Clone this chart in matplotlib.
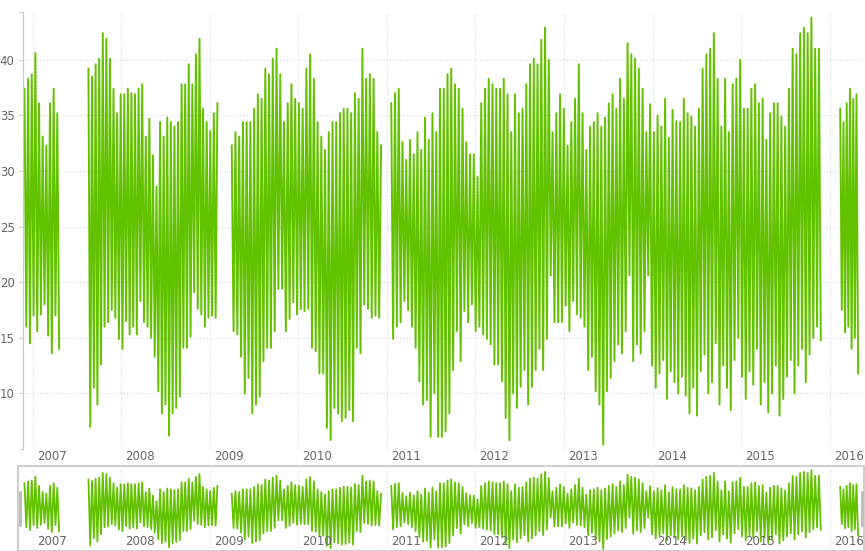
import numpy as np
import pandas as pd
import matplotlib
matplotlib.use("Agg")
import matplotlib.pyplot as plt
from matplotlib.patches import Rectangle, FancyBboxPatch
from matplotlib.transforms import blended_transform_factory, ScaledTranslation

# ---------------------------------------------------------------------------
# Data (weekly-ish readings, gaps between segments)
# ---------------------------------------------------------------------------
seg_starts = ["2006-11-28", "2007-08-19", "2009-04-01", "2011-01-19", "2016-02-14"]
seg_ends = ["2007-04-20", "2009-02-01", "2010-12-08", "2015-11-26", "2016-04-28"]

seg1 = [37.4, 16.0, 38.3, 14.5, 38.7, 17.0, 40.6, 15.6, 36.1, 17.1,
        33.1, 18.0, 32.3, 15.2, 36.1, 13.6, 37.4, 17.0, 35.2, 14.0]

seg2 = [39.2, 7.0, 38.5, 10.5, 39.6, 9.0, 40.1, 12.6, 42.4, 16.0,
        41.9, 16.4, 40.1, 17.5, 37.4, 16.8, 35.2, 14.9, 36.9, 14.0,
        36.9, 16.5, 37.4, 15.3, 37.0, 16.0, 36.9, 15.3, 37.4, 18.3,
        37.8, 16.4, 33.1, 16.0, 34.7, 15.0, 31.4, 13.3, 28.6, 10.2,
        34.4, 8.2, 33.1, 9.0, 34.8, 6.2, 34.4, 8.2, 34.0, 8.7,
        34.4, 9.7, 37.8, 14.1, 37.8, 14.1, 39.6, 15.1, 37.8, 19.1,
        40.5, 17.6, 41.9, 17.1, 35.6, 16.0, 34.4, 16.8, 33.6, 17.0,
        35.2, 16.8, 36.1]

seg3 = [32.3, 15.6, 33.5, 15.3, 33.1, 13.3, 34.4, 10.0, 34.4, 11.4,
        34.4, 8.2, 35.6, 9.0, 36.9, 9.7, 36.5, 12.9, 39.2, 14.1,
        38.7, 14.1, 40.1, 15.6, 41.0, 19.4, 38.7, 19.4, 34.4, 15.6,
        36.1, 16.7, 37.8, 18.2, 36.5, 17.1, 36.1, 17.6, 35.6, 17.4,
        39.2, 17.6, 40.5, 14.1, 38.3, 13.8, 34.4, 11.8, 33.1, 11.8,
        31.9, 6.9, 33.5, 5.8, 34.4, 8.7, 34.4, 8.2, 35.2, 7.5,
        35.6, 7.8, 35.6, 8.5, 35.2, 7.5, 37.0, 14.1, 36.5, 13.6,
        41.0, 18.0, 38.3, 17.6, 38.7, 16.8, 38.3, 17.0, 33.5, 16.8,
        32.3]

seg4 = [36.1, 14.9, 37.0, 16.0, 37.4, 16.4, 32.6, 18.3, 31.0, 17.5,
        32.8, 16.0, 31.5, 14.1, 33.5, 11.1, 31.9, 9.0, 34.8, 9.4,
        32.8, 6.1, 35.2, 10.0, 33.5, 6.1,
        37.4, 6.1, 37.4, 6.6, 38.7, 8.2, 39.2, 12.1, 37.8, 15.6,
        37.4, 12.9, 35.6, 17.4, 32.6, 16.4, 31.5, 18.0, 31.5, 15.6,
        29.5, 16.0, 36.1, 15.3, 37.4, 14.9, 38.3, 14.4, 37.8, 12.6,
        37.4, 12.6, 37.4, 11.1, 38.3, 7.8, 36.9, 5.8, 33.5, 10.0,
        36.9, 8.7, 35.2, 10.6, 35.6, 12.1, 37.8, 9.0, 39.6, 10.6,
        40.1, 12.1, 39.6, 14.0,
        41.8, 12.1, 42.9, 14.9, 40.0, 20.6, 33.5, 16.4, 35.2, 16.4,
        36.9, 16.4, 35.6, 17.9, 32.3, 15.6, 34.4, 18.3, 36.5, 17.1,
        39.6, 16.8, 35.2, 16.0, 31.9, 12.1, 34.0, 13.3, 34.4, 10.2,
        35.2, 9.0, 34.0, 5.4, 34.8, 10.2, 36.1, 11.4, 36.9, 12.9,
        35.6, 14.4, 38.3, 13.6, 36.5, 15.6, 41.5, 20.6, 40.5, 12.9,
        40.1, 14.4, 39.2, 13.6, 37.4, 15.6, 33.5, 20.6,
        36.0, 12.5, 33.5, 10.5, 35.0, 11.8, 34.0, 13.0, 36.5, 9.5,
        33.0, 12.0, 35.5, 11.0, 34.5, 10.0,
        34.4, 11.5, 36.5, 9.8, 35.2, 8.2, 34.9, 10.5, 34.0, 8.0,
        35.6, 12.0, 39.2, 13.5, 40.5, 10.0, 41.0, 11.0, 42.4, 14.5,
        38.3, 9.0, 34.0, 12.5, 38.3, 10.5, 33.5, 8.5, 37.8, 13.0,
        38.3, 15.0, 40.0, 11.5, 35.6, 9.5, 35.6, 12.0, 37.4, 10.8,
        37.8, 14.0, 36.1, 9.0, 36.5, 11.0, 32.8, 8.3, 35.2, 10.0,
        36.1, 12.5, 36.1, 8.0, 34.9, 9.5, 34.0, 11.5, 37.4, 13.0,
        41.0, 10.0, 40.5, 12.5, 42.4, 14.0, 42.9, 11.0, 42.4, 13.5,
        43.8, 15.0, 41.0, 16.0, 41.0, 14.8]

seg5 = [35.6, 17.5, 34.4, 15.5, 36.1, 16.0, 37.4, 14.0, 36.5, 15.0,
        36.9, 11.8]

segments = [seg1, seg2, seg3, seg4, seg5]
years = list(range(2007, 2017))
y_ticks = [10, 15, 20, 25, 30, 35, 40]

# ---------------------------------------------------------------------------
# Style
# ---------------------------------------------------------------------------
LINE = "#62c200"
GRID = "#d6d6d6"
TXT = "#666666"
W, H = 865, 551

plt.rcParams["font.family"] = ["DejaVu Sans"]
fig = plt.figure(figsize=(W / 100, H / 100), dpi=100)


def px_axes(x0, y0, x1, y1):
    return fig.add_axes([x0 / W, 1 - y1 / H, (x1 - x0) / W, (y1 - y0) / H])


x_lo = pd.Timestamp("2006-11-22")
x_hi = pd.Timestamp("2016-05-14")

ax = px_axes(23, 12, 862, 449)
nav = px_axes(23, 468, 862, 551)

series = []
for start, end, vals in zip(seg_starts, seg_ends, segments):
    dates = pd.date_range(start, end, periods=len(vals))
    series.append((dates, np.array(vals)))

for dates, vals in series:
    ax.plot(dates, vals, color=LINE, lw=1.4)
    nav.plot(dates, vals, color=LINE, lw=1.3)

year_pos = [pd.Timestamp(f"{y}-01-01") for y in years]

for a in (ax, nav):
    a.set_xlim(x_lo, x_hi)
    for s in a.spines.values():
        s.set_visible(False)
    a.set_xticks(year_pos)
    a.tick_params(axis="x", length=0, labelbottom=False)
    a.grid(axis="x", color=GRID, lw=0.8, ls=(0, (1, 2)))
    a.set_axisbelow(True)

# main axis: y
ax.set_ylim(5, 44.3)
ax.set_yticks(y_ticks)
ax.set_yticklabels([str(v) for v in y_ticks], color=TXT, fontsize=8.5)
ax.yaxis.set_minor_locator(matplotlib.ticker.FixedLocator([5, 44.3]))
ax.tick_params(axis="y", which="both", length=3, color="#c8c8c8", pad=3)
ax.grid(axis="y", color=GRID, lw=0.8, ls=(0, (1, 2)))
ax.spines["left"].set_visible(True)
ax.spines["left"].set_color("#c8c8c8")

nav.set_ylim(4.4, 44.8)
nav.set_yticks([])

# year labels, left aligned next to the grid lines
off = ScaledTranslation(3 / 72, 0, fig.dpi_scale_trans)
tr_main = blended_transform_factory(ax.transData, ax.transAxes) + off
tr_nav = blended_transform_factory(nav.transData, nav.transAxes) + off
for y, d in zip(years, year_pos):
    ax.text(d, -0.0175, str(y), transform=tr_main, ha="left", va="center",
            color=TXT, fontsize=8.5)
    nav.text(d, 0.12, str(y), transform=tr_nav, ha="left", va="center",
             color=TXT, fontsize=8.5)

# navigator frame and handles
fig.add_artist(Rectangle((18 / W, 0), (864 - 18) / W, 1 - 466 / H,
                         transform=fig.transFigure, fill=False,
                         ec="#cfcfcf", lw=1.5))
for hx in (19, 861):
    fig.add_artist(FancyBboxPatch((hx / W, 1 - 527 / H), 3 / W, 36 / H,
                                  boxstyle="round,pad=0,rounding_size=0.002",
                                  transform=fig.transFigure,
                                  fc="#bdbdbd", ec="none"))

fig.savefig("out.png", dpi=100)
